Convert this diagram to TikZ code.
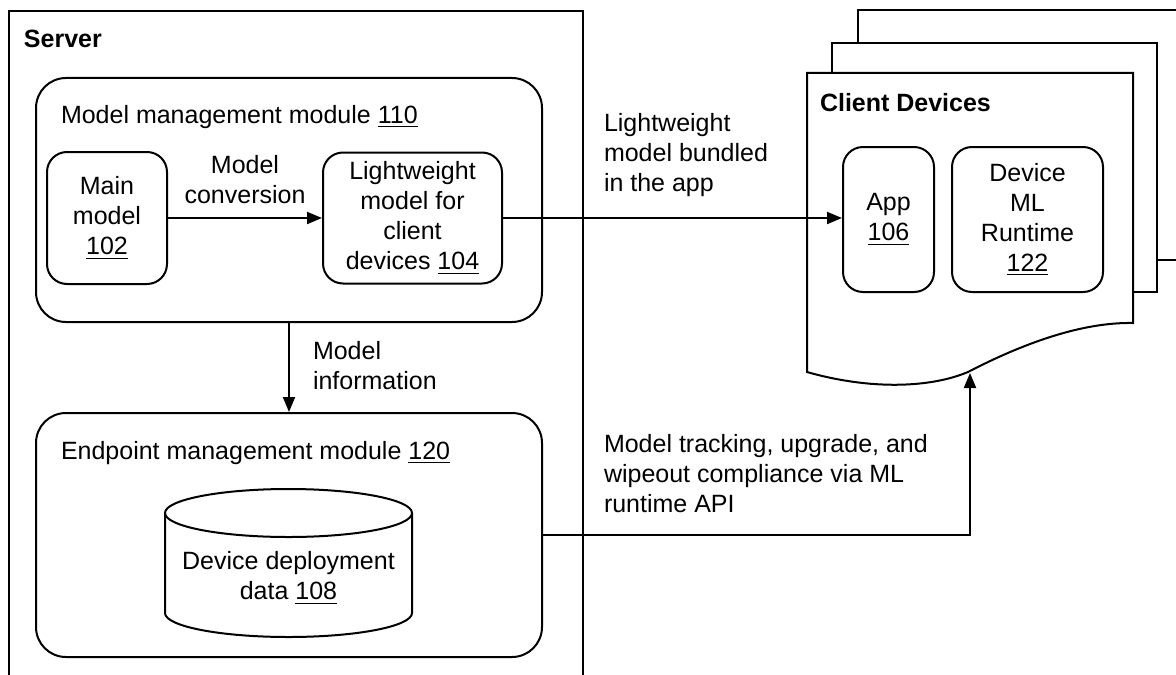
\documentclass[tikz,border=0pt]{standalone}
\usepackage{fontspec}
\setmainfont{Liberation Sans}
\usetikzlibrary{arrows.meta}

\begin{document}
\begin{tikzpicture}[x=0.5pt,y=-0.5pt,line width=1pt,>={Triangle[length=7.5pt,width=6pt]},
  every node/.style={font=\fontsize{12.5}{15}\selectfont},
  module/.style={draw,rounded corners=15pt,minimum width=253pt,minimum height=122pt},
  unit/.style={draw,rounded corners=10pt,align=center,inner sep=0pt},
  note/.style={align=left,inner sep=0pt,anchor=west},
  title/.style={anchor=west,inner sep=0pt,font=\fontsize{12.5}{15}\selectfont\bfseries}]
\useasboundingbox (0,0) rectangle (1176,674);
\clip (0,0) rectangle (1176,674);
\draw (9,690)--(9,11)--(583,11)--(583,690);
\node[title] (server) at (23,39) {Server};
\node[module] (mmm) at (289,200) {};
\node[module] (epm) at (289,535) {};
\node[note] (mmmtitle) at (60,117) {Model management module \underline{110}};
\node[note] (epmtitle) at (60,453) {Endpoint management module \underline{120}};
\node[unit,minimum width=60pt,minimum height=66pt] (main) at (107,218) {Main\\model\\\underline{102}};
\node[unit,minimum width=89.5pt,minimum height=65.5pt] (light) at (412.5,218) {Lightweight\\model for\\client\\devices \underline{104}};
\draw (165,513)--(165,613) arc[start angle=180,end angle=0,x radius=123.5,y radius=24]--(412,513);
\draw (288.5,513) ellipse[x radius=123.5,y radius=24];
\node[align=center,inner sep=0pt] (deploy) at (288.5,578) {Device deployment\\data \underline{108}};
\draw[fill=white] (858,260)--(858,10)--(1190,10)--(1190,260)--cycle;
\draw[fill=white] (832,43) rectangle (1157,292);
\draw[fill=white] (807,73)--(1133,73)--(1133,323) .. controls (1080,322) and (1020,345) .. (968,372)
  .. controls (930,388) and (870,390) .. (807,372)--cycle;
\node[title] (client) at (819,103) {Client Devices};
\node[unit,minimum width=45.5pt,minimum height=72.5pt] (app) at (888.5,219.5) {App\\\underline{106}};
\node[unit,minimum width=75.5pt,minimum height=72.5pt] (runtime) at (1027.5,219.5) {Device\\ML\\Runtime\\\underline{122}};
\coordinate (wave) at (970,373);
\draw[->] (main)--node[above=6.5pt,align=center,inner sep=0pt] (conv) {Model\\conversion} (light);
\draw[->] (light)--(light -| app.west);
\draw[->] (mmm)--(epm);
\draw[->] (epm.east)-|(wave);
\node[note] (info) at (312,366) {Model\\information};
\node[note] (bundled) at (603,155) {Lightweight\\model bundled\\in the app};
\node[note] (tracking) at (603,474) {Model tracking, upgrade, and\\wipeout compliance via ML\\runtime API};
\end{tikzpicture}
\end{document}
